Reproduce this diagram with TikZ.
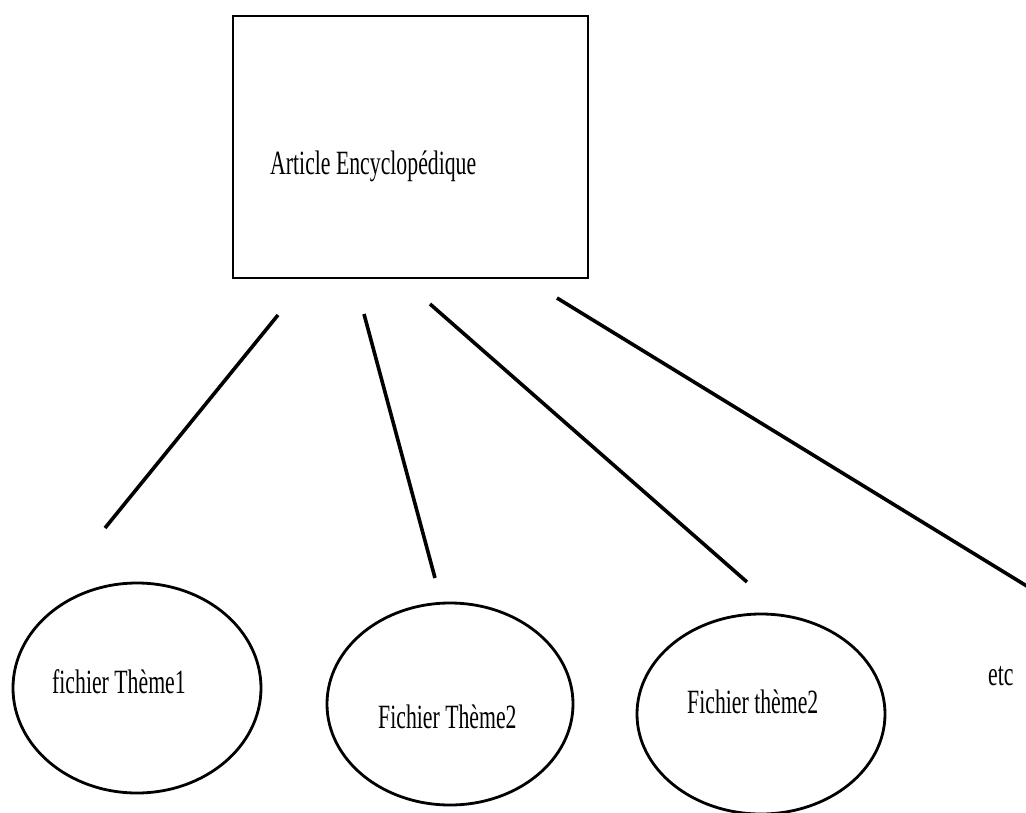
\documentclass[tikz,border=0pt]{standalone}
\usepackage{fontspec}
\setmainfont{Liberation Serif}[FakeStretch=0.64]
\usetikzlibrary{shapes.geometric}
\begin{document}
\begin{tikzpicture}[x=1pt,y=-1pt,
  box/.style={draw=black,line width=2.8pt,rectangle,inner sep=0pt},
  oval/.style={draw=black,line width=2.8pt,ellipse,inner sep=0pt},
  lbl/.style={anchor=base west,inner sep=0pt,font=\fontsize{34}{40}\selectfont},
  link/.style={draw=black,line width=3.6pt}]
\useasboundingbox (0,0) rectangle (1026,812);
% box
\node[box,minimum width=355pt,minimum height=262pt] (article) at (410.5,147) {};
\node[lbl] (articletxt) at (270,174) {Article Encyclopédique};
% ellipses
\node[oval,minimum width=248pt,minimum height=210pt] (t1) at (137,688) {};
\node[oval,minimum width=246pt,minimum height=202pt] (t2) at (450,704) {};
\node[oval,minimum width=248pt,minimum height=200pt] (t3) at (761,714) {};
\node[lbl] (t1txt) at (52,693) {fichier Thème1};
\node[lbl] (t2txt) at (378,728) {Fichier Thème2};
\node[lbl] (t3txt) at (687,713) {Fichier thème2};
\node[lbl] (etc) at (988,685) {etc};
% connectors
\coordinate (a1) at (278,315); \coordinate (b1) at (105,528);
\coordinate (a2) at (364,314); \coordinate (b2) at (435,578);
\coordinate (a3) at (430,304); \coordinate (b3) at (747,582);
\coordinate (a4) at (557,298); \coordinate (b4) at (1030,588);
\draw[link] (a1) -- (b1);
\draw[link] (a2) -- (b2);
\draw[link] (a3) -- (b3);
\draw[link] (a4) -- (b4);
\end{tikzpicture}
\end{document}
